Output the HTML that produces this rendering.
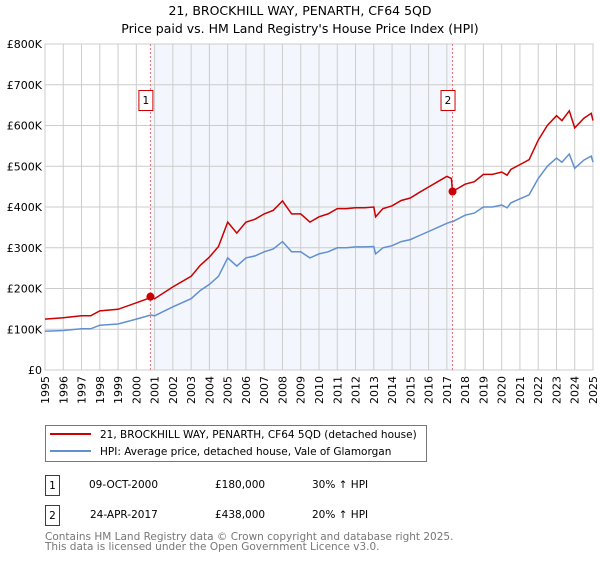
<!DOCTYPE html>
<html><head><meta charset="utf-8"><style>
body{margin:0;background:#fff;font-family:"DejaVu Sans","Liberation Sans",sans-serif;}
svg text{font-family:"DejaVu Sans","Liberation Sans",sans-serif;}
</style></head><body>
<svg id="c" width="600" height="560" xmlns="http://www.w3.org/2000/svg">
<text x="300" y="15" text-anchor="middle" font-size="12.5">21, BROCKHILL WAY, PENARTH, CF64 5QD</text>
<text x="300" y="33" text-anchor="middle" font-size="12.5">Price paid vs. HM Land Registry's House Price Index (HPI)</text>
<g id="plot"></g>
<rect x="45.5" y="425.5" width="381" height="36" fill="#fff" stroke="#777"/>
<line x1="50" y1="434" x2="91" y2="434" stroke="#cc0000" stroke-width="2"/>
<text x="100" y="438" font-size="10.5">21, BROCKHILL WAY, PENARTH, CF64 5QD (detached house)</text>
<line x1="50" y1="451" x2="91" y2="451" stroke="#6090d0" stroke-width="2"/>
<text x="100" y="455" font-size="10.5">HPI: Average price, detached house, Vale of Glamorgan</text>
<g font-size="10.5">
<rect x="45.5" y="475.5" width="14" height="20" fill="#fff" stroke="#cc0000"/>
<text x="52.5" y="489" text-anchor="middle">1</text>
<text x="89" y="488">09-OCT-2000</text>
<text x="215" y="488">£180,000</text>
<text x="312" y="488">30% ↑ HPI</text>
<rect x="45.5" y="505.5" width="14" height="20" fill="#fff" stroke="#cc0000"/>
<text x="52.5" y="519" text-anchor="middle">2</text>
<text x="90" y="518">24-APR-2017</text>
<text x="215" y="518">£438,000</text>
<text x="312" y="518">20% ↑ HPI</text>
</g>
<text x="45" y="540" font-size="10.5" fill="#777">Contains HM Land Registry data © Crown copyright and database right 2025.</text>
<text x="45" y="550" font-size="10.5" fill="#777">This data is licensed under the Open Government Licence v3.0.</text>
</svg>
<script>
const yearsX=[1995,1996,1997,1997.5,1998,1999,2000,2000.8,2001,2002,2003,2003.5,2004,2004.5,2005,2005.5,2006,2006.5,2007,2007.5,2008,2008.5,2009,2009.5,2010,2010.5,2011,2011.5,2012,2012.5,2013,2013.1,2013.5,2014,2014.5,2015,2015.5,2016,2016.5,2017,2017.25,2017.31,2018,2018.5,2019,2019.5,2020,2020.3,2020.5,2021,2021.5,2022,2022.5,2023,2023.3,2023.7,2024,2024.5,2024.9,2025];
const hpiValues=[95,97,101,101,110,113,125,135,133,155,175,195,210,230,275,255,275,280,290,297,315,290,290,275,285,290,300,300,302,302,303,285,300,305,315,320,330,340,350,360,364,364,380,385,400,400,405,398,410,420,430,470,500,520,510,530,495,515,525,510];
const propValues=[125,128,133,133,145,149,165,178,175,204,230,257,277,303,363,336,363,370,383,392,415,383,383,363,376,383,396,396,398,398,400,376,396,403,416,422,436,449,462,475,470,438,456,462,480,480,486,478,492,504,516,564,600,624,612,636,594,618,630,612];
const yTicks=[0,100,200,300,400,500,600,700,800];
const yTickLabels=["£0","£100K","£200K","£300K","£400K","£500K","£600K","£700K","£800K"];
const xTicks=[1995,1996,1997,1998,1999,2000,2001,2002,2003,2004,2005,2006,2007,2008,2009,2010,2011,2012,2013,2014,2015,2016,2017,2018,2019,2020,2021,2022,2023,2024,2025];
const saleYears=[2000.77,2017.31];
const salePrices=[180,438];
const saleLabels=["1","2"];
const L=45,R=593,T=44,B=370;
const X=y=>L+(y-1995)/30*(R-L);
const Y=v=>B-v/800*(B-T);
const NS="http://www.w3.org/2000/svg";
const g=document.getElementById('plot');
function mk(t,a){const e=document.createElementNS(NS,t);for(const k in a)e.setAttribute(k,a[k]);g.appendChild(e);return e;}
let e=mk('rect',{x:L,y:T,width:R-L,height:B-T,fill:'#fff',stroke:'#ccc'});


e=mk('rect',{x:X(saleYears[0]),y:T,width:X(saleYears[1])-X(saleYears[0]),height:B-T,fill:'#eef3fc',opacity:0.7});


xTicks.forEach(t=>{
 e=mk('line',{x1:X(t),x2:X(t),y1:T,y2:B,stroke:'#ccc'});
 
 
 e=mk('text',{x:0,y:0,'font-size':'11','text-anchor':'end',transform:`translate(${X(t)+4},${B+6}) rotate(-90)`});
 e.textContent=t;
 
 
});
yTicks.forEach((t,i)=>{
 e=mk('line',{x1:L,x2:R,y1:Y(t),y2:Y(t),stroke:'#ccc'});
 
 
 e=mk('text',{x:L-3,y:Y(t)+4,'font-size':'11','text-anchor':'end'});
 e.textContent=yTickLabels[i];
 
 
});
saleYears.forEach((s,i)=>{
 e=mk('line',{x1:X(s),x2:X(s),y1:T,y2:B,stroke:'#f07070','stroke-dasharray':'2,2'});
 
 
 e=mk('rect',{x:X(s)-11.5,y:90.5,width:14,height:20,fill:'#fff',stroke:'#cc0000'});
 
 
 e=mk('text',{x:X(s)-4.5,y:104,'font-size':'10.5','text-anchor':'middle'});
 e.textContent=saleLabels[i];
 
 
});
function path(vals){return vals.map((v,i)=>(i?'L':'M')+X(yearsX[i]).toFixed(1)+','+Y(v).toFixed(1)).join('');}
e=mk('path',{d:path(hpiValues),fill:'none',stroke:'#6090d0','stroke-width':1.5});


e=mk('path',{d:path(propValues),fill:'none',stroke:'#cc0000','stroke-width':1.5});


saleYears.forEach((s,i)=>{
 e=mk('circle',{cx:X(s),cy:Y(salePrices[i]),r:4,fill:'#cc0000'});
 
 
});
</script>
</body></html>
